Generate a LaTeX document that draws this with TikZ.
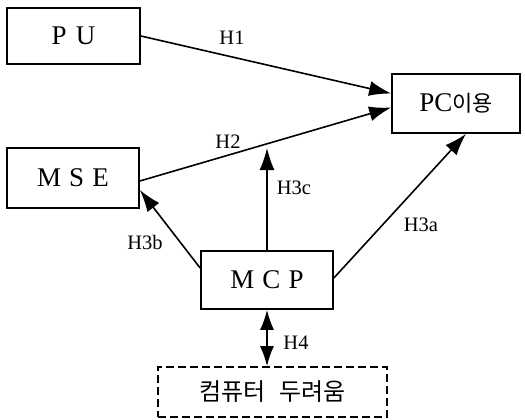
\documentclass[tikz,border=0pt]{standalone}
\usepackage{fontspec}
\setmainfont{Liberation Serif}
\newfontfamily\kr{Noto Sans CJK KR}
\usetikzlibrary{arrows.meta}
\tikzset{
  box/.style={draw, line width=1.7pt, inner sep=0pt, font=\fontsize{27}{30}\selectfont},
  lbl/.style={font=\fontsize{20.5}{23}\selectfont, inner sep=0pt},
  arr/.style={line width=1.6pt, -{Latex[length=22pt,width=15pt]}},
  darr/.style={line width=1.6pt, {Latex[length=20pt,width=14pt]}-{Latex[length=20pt,width=14pt]}},
}
\begin{document}
\begin{tikzpicture}[x=1pt,y=-1pt]
\useasboundingbox (0,0) rectangle (525,420);
\node[box, minimum width=133pt, minimum height=56pt] (pu) at (73.5,36) {P\hspace{0.35em}U};
\node[box, minimum width=128pt, minimum height=59pt] (pc) at (456,103.5) {PC{\kr\fontsize{22}{24}\selectfont 이용}};
\node[box, minimum width=132pt, minimum height=60pt] (mse) at (73,178) {M\hspace{0.3em}S\hspace{0.3em}E};
\node[box, minimum width=132pt, minimum height=58pt] (mcp) at (267,280) {M\hspace{0.3em}C\hspace{0.3em}P};
\node[box, dashed, dash pattern=on 8pt off 4pt, minimum width=229pt, minimum height=50pt] (fear) at (272.5,392) {\kr\fontsize{24}{26}\selectfont 컴퓨터\hspace{0.6em}두려움};
\coordinate (c3) at (267,148);
\draw[arr] (pu.east) -- ([yshift=10pt]pc.west);
\draw[arr] ([yshift=-3pt]mse.east) -- ([yshift=-4pt]pc.west);
\draw[arr] (mcp.north) -- (c3);
\draw[arr] ([yshift=12pt]mcp.west) -- ([yshift=-12pt]mse.east);
\draw[arr] ([yshift=2pt]mcp.east) -- ([xshift=10pt]pc.south);
\draw[darr] (mcp.south) -- (mcp.south |- fear.north);
\node[lbl] (h1) at (232,38) {H1};
\node[lbl] (h2) at (228,142) {H2};
\node[lbl] (h3c) at (294,188) {H3c};
\node[lbl] (h3b) at (145,242) {H3b};
\node[lbl] (h3a) at (421,225) {H3a};
\node[lbl] (h4) at (296,343) {H4};
\end{tikzpicture}
\end{document}
